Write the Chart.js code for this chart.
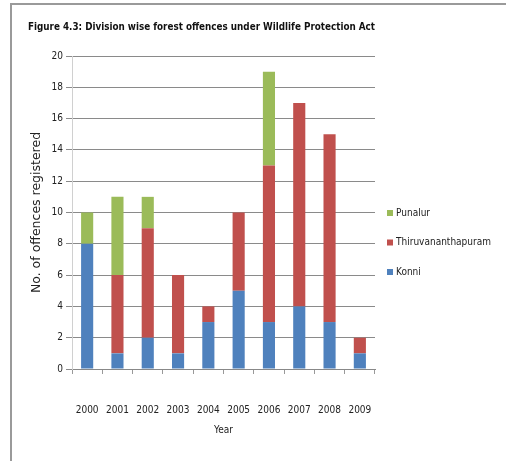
<!DOCTYPE html>
<html>
<head>
<meta charset="utf-8">
<script src="https://cdn.jsdelivr.net/npm/chart.js@4"></script>
<style>
  html, body { margin: 0; padding: 0; background: #fff; }
  #wrap { position: relative; width: 506px; height: 461px; overflow: hidden; }
  #frame { position: absolute; left: 10px; top: 3px; width: 520px; height: 480px;
           border-left: 2px solid #9a9a9a; border-top: 2px solid #9a9a9a; }
  canvas { position: absolute; left: 0; top: 0; }
</style>
</head>
<body>
<div id="wrap">
  <div id="frame"></div>
  <canvas id="grafico" width="506" height="461"></canvas>
</div>
<script>
const anos = ["2000", "2001", "2002", "2003", "2004", "2005", "2006", "2007", "2008", "2009"];
const konni = [8, 1, 2, 1, 3, 5, 3, 4, 3, 1];
const thiruvananthapuram = [0, 5, 7, 5, 1, 5, 10, 13, 12, 1];
const punalur = [2, 5, 2, 0, 0, 0, 6, 0, 0, 0];

const estreita = '"Liberation Sans Narrow", "DejaVu Sans Condensed", sans-serif';

// legenda desenhada à direita da área do gráfico, de cima para baixo em ordem inversa
const legendaLateral = {
    id: "legendaLateral",
    afterDraw(chart) {
        const ctx = chart.ctx;
        const area = chart.chartArea;
        const sets = chart.data.datasets.slice().reverse();
        ctx.save();
        ctx.font = `10px ${estreita}`;
        ctx.textBaseline = "middle";
        sets.forEach((ds, i) => {
            const y = area.top + 157 + i * 29.5;
            const x = area.right + 12;
            ctx.fillStyle = ds.backgroundColor;
            ctx.fillRect(x, y - 3, 6, 6);
            ctx.fillStyle = "#222";
            ctx.fillText(ds.label, x + 9, y);
        });
        ctx.restore();
    }
};

new Chart(document.getElementById("grafico"), {
    type: "bar",
    data: {
        labels: anos,
        datasets: [
            { label: "Konni", data: konni, backgroundColor: "#4F81BD" },
            { label: "Thiruvananthapuram", data: thiruvananthapuram, backgroundColor: "#C0504D" },
            { label: "Punalur", data: punalur, backgroundColor: "#9BBB59" }
        ]
    },
    plugins: [legendaLateral],
    options: {
        responsive: false,
        animation: false,
        devicePixelRatio: 1,
        layout: { padding: { left: 28, right: 131, top: 12, bottom: 21 } },
        datasets: { bar: { barPercentage: 0.4, categoryPercentage: 1 } },
        plugins: {
            title: {
                display: true,
                text: "Figure 4.3: Division wise forest offences under Wildlife Protection Act",
                align: "start",
                color: "#111",
                font: { family: estreita, size: 10, weight: "bold" },
                padding: { top: 9, bottom: 23 }
            },
            legend: { display: false },
            tooltip: { enabled: false }
        },
        scales: {
            x: {
                stacked: true,
                afterFit: s => { s.height = 71; },
                grid: { display: true, drawOnChartArea: false, drawTicks: true, tickLength: 5, color: "#999" },
                border: { color: "#888" },
                ticks: { color: "#222", padding: 30, maxRotation: 0, minRotation: 0, autoSkip: false,
                         font: { family: estreita, size: 10 } },
                title: { display: true, text: "Year", color: "#222", padding: { top: 8, bottom: 4 }, font: { family: estreita, size: 10 } }
            },
            y: {
                stacked: true,
                min: 0,
                max: 20,
                afterFit: s => { s.width = 44; },
                grid: { color: "#8a8a8a", tickLength: 6 },
                border: { color: "#d0d0d0" },
                ticks: { stepSize: 2, color: "#222", padding: 3, font: { family: estreita, size: 10 } },
                title: { display: true, text: "No. of offences registered", color: "#222", padding: 1, font: { family: "DejaVu Sans", size: 12.5 } }
            }
        }
    }
});
</script>
</body>
</html>
